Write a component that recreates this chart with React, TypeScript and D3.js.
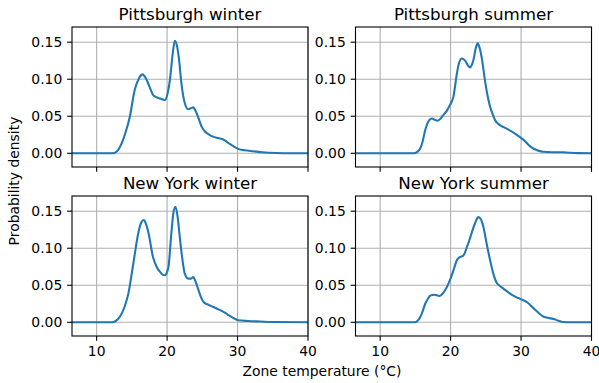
import React from 'react';
import * as d3 from 'd3';

const W = 599;
const H = 383;

const titles = ['Pittsburgh winter', 'Pittsburgh summer', 'New York winter', 'New York summer'];
const xTicks = [10, 20, 30, 40];
const yTicks = [0, 0.05, 0.1, 0.15];
const xLabel = 'Zone temperature (°C)';
const yLabel = 'Probability density';

const pghWinterT = [6.5, 12.0, 12.5, 13.0, 13.55, 14.1, 14.7, 15.4, 16.0, 16.5, 17.0, 17.5, 18.0, 18.5, 19.0, 19.7, 20.1, 20.4, 20.8, 21.1, 21.4, 21.7, 22.0, 22.4, 23.0, 23.4, 23.7, 24.0, 24.4, 24.9, 25.4, 26.0, 26.5, 27.3, 27.9, 28.4, 28.9, 29.5, 30.1, 31.0, 32.2, 33.5, 35.5, 38, 40];
const pghWinterD = [0, 0, 0.0005, 0.004, 0.0135, 0.028, 0.049, 0.0855, 0.101, 0.1065, 0.101, 0.09, 0.079, 0.0757, 0.074, 0.072, 0.082, 0.099, 0.135, 0.152, 0.145, 0.126, 0.097, 0.072, 0.0594, 0.061, 0.062, 0.058, 0.049, 0.036, 0.029, 0.025, 0.0225, 0.0205, 0.019, 0.016, 0.0126, 0.009, 0.006, 0.004, 0.0027, 0.0015, 0.0005, 0.0001, 0];

const pghSummerT = [6.5, 14.5, 15.0, 15.4, 15.7, 16.0, 16.4, 16.7, 17.0, 17.34, 17.7, 18.15, 18.6, 19.0, 19.5, 19.9, 20.4, 20.9, 21.2, 21.6, 22.06, 22.5, 22.77, 23.0, 23.24, 23.6, 23.85, 24.1, 24.4, 24.9, 25.2, 25.6, 26.0, 26.3, 27.0, 27.6, 28.2, 29.4, 30.5, 31.0, 31.5, 32.2, 33.1, 34.5, 36.0, 38.0, 40];
const pghSummerD = [0, 0, 0.0005, 0.003, 0.0068, 0.015, 0.0315, 0.04, 0.045, 0.047, 0.0455, 0.044, 0.047, 0.052, 0.058, 0.065, 0.0765, 0.108, 0.122, 0.128, 0.125, 0.118, 0.116, 0.119, 0.126, 0.143, 0.1485, 0.143, 0.13, 0.097, 0.08, 0.063, 0.052, 0.045, 0.038, 0.035, 0.032, 0.025, 0.017, 0.012, 0.008, 0.0045, 0.0022, 0.0015, 0.0013, 0.0002, 0];

const nyWinterT = [6.5, 12.0, 12.5, 13.0, 13.55, 14.0, 14.5, 15.2, 15.9, 16.3, 16.7, 17.0, 17.33, 18.0, 18.5, 19.0, 19.4, 19.7, 20.0, 20.2, 20.6, 20.9, 21.2, 21.5, 21.8, 22.1, 22.5, 23.0, 23.4, 23.7, 24.0, 24.4, 24.8, 25.2, 25.9, 26.55, 27.3, 28.0, 28.6, 29.15, 30.1, 31.5, 33.2, 35, 40];
const nyWinterD = [0, 0, 0.0008, 0.004, 0.0117, 0.022, 0.0387, 0.079, 0.12, 0.134, 0.138, 0.133, 0.122, 0.088, 0.075, 0.068, 0.064, 0.0635, 0.068, 0.075, 0.12, 0.148, 0.156, 0.142, 0.115, 0.09, 0.066, 0.059, 0.059, 0.061, 0.056, 0.045, 0.034, 0.027, 0.0235, 0.0207, 0.0175, 0.014, 0.0105, 0.0072, 0.0027, 0.0017, 0.001, 0.0003, 0];

const nySummerT = [6.5, 14.7, 15.1, 15.4, 15.7, 16.0, 16.4, 16.8, 17.1, 17.7, 18.4, 18.8, 19.2, 19.9, 20.4, 20.9, 21.3, 21.8, 22.3, 22.8, 23.4, 23.94, 24.3, 24.65, 25.1, 25.6, 26.0, 26.5, 27.0, 27.5, 28.1, 28.7, 29.3, 29.8, 30.4, 31.0, 31.5, 32.0, 32.5, 33.1, 33.8, 34.6, 35.3, 36.0, 37, 40];
const nySummerD = [0, 0, 0.0005, 0.003, 0.0072, 0.014, 0.025, 0.032, 0.036, 0.0373, 0.0355, 0.038, 0.043, 0.057, 0.07, 0.084, 0.088, 0.09, 0.101, 0.115, 0.132, 0.142, 0.139, 0.129, 0.107, 0.084, 0.068, 0.054, 0.049, 0.0455, 0.041, 0.037, 0.034, 0.032, 0.0295, 0.026, 0.0215, 0.017, 0.0125, 0.008, 0.006, 0.0045, 0.0022, 0.0005, 0, 0];

const seriesT = [pghWinterT, pghSummerT, nyWinterT, nySummerT];
const seriesD = [pghWinterD, pghSummerD, nyWinterD, nySummerD];

const FONT = 'DejaVu Sans, sans-serif';
const TICK = 4.86;
const PAD = 4.86;
const colLeft = [72, 355.5];
const rowTop = [27, 196];
const PW = 236;
const PH = 140;

function Panel({ idx }: { idx: number }) {
  const col = idx % 2;
  const row = Math.floor(idx / 2);
  const left = colLeft[col];
  const top = rowTop[row];
  const x = d3.scaleLinear().domain([6.5, 40]).range([left, left + PW]);
  const y = d3.scaleLinear().domain([-0.0185, 0.1705]).range([top + PH, top]);
  const pts: [number, number][] = seriesT[idx].map((t, i) => [t, seriesD[idx][i]]);
  const line = d3
    .line<[number, number]>()
    .x((d) => x(d[0]))
    .y((d) => y(d[1]))
    .curve(d3.curveMonotoneX);
  const bottom = top + PH;
  return (
    <g>
      {xTicks.map((t) => (
        <line key={'gx' + t} x1={x(t)} x2={x(t)} y1={top} y2={bottom} stroke="#b0b0b0" strokeWidth={1.1} />
      ))}
      {yTicks.map((t) => (
        <line key={'gy' + t} x1={left} x2={left + PW} y1={y(t)} y2={y(t)} stroke="#b0b0b0" strokeWidth={1.1} />
      ))}
      <clipPath id={'clip' + idx}>
        <rect x={left} y={top} width={PW} height={PH} />
      </clipPath>
      <path d={line(pts) || ''} fill="none" stroke="#1f77b4" strokeWidth={2.08} clipPath={`url(#clip${idx})`} strokeLinejoin="round" strokeLinecap="square" />
      <rect x={left} y={top} width={PW} height={PH} fill="none" stroke="#000" strokeWidth={1.1} />
      {xTicks.map((t) => (
        <line key={'tx' + t} x1={x(t)} x2={x(t)} y1={bottom} y2={bottom + TICK} stroke="#000" strokeWidth={1.1} />
      ))}
      {row === 1 &&
        xTicks.map((t) => (
          <text key={'lx' + t} x={x(t)} y={bottom + TICK + PAD + 10.3} textAnchor="middle" fontFamily={FONT} fontSize={13.9} fill="#000">
            {t}
          </text>
        ))}
      {yTicks.map((t) => (
        <line key={'ty' + t} x1={left - TICK} x2={left} y1={y(t)} y2={y(t)} stroke="#000" strokeWidth={1.1} />
      ))}
      {yTicks.map((t) => (
        <text key={'ly' + t} x={left - TICK - PAD} y={y(t) + 5} textAnchor="end" fontFamily={FONT} fontSize={13.9} fill="#000">
          {t.toFixed(2)}
        </text>
      ))}
      <text x={left + PW / 2} y={top - 7.3} textAnchor="middle" fontFamily={FONT} fontSize={16.7} fill="#000">
        {titles[idx]}
      </text>
    </g>
  );
}

export default function App() {
  return (
    <svg width={W} height={H} style={{ position: 'absolute', left: 0, top: 0, background: '#fff' }}>
      <rect width={W} height={H} fill="#fff" />
      {[0, 1, 2, 3].map((i) => (
        <Panel key={i} idx={i} />
      ))}
      <text x={322} y={376} textAnchor="middle" fontFamily={FONT} fontSize={13.9} fill="#000">
        {xLabel}
      </text>
      <text transform="translate(18.7,181) rotate(-90)" textAnchor="middle" fontFamily={FONT} fontSize={13.9} fill="#000">
        {yLabel}
      </text>
    </svg>
  );
}
